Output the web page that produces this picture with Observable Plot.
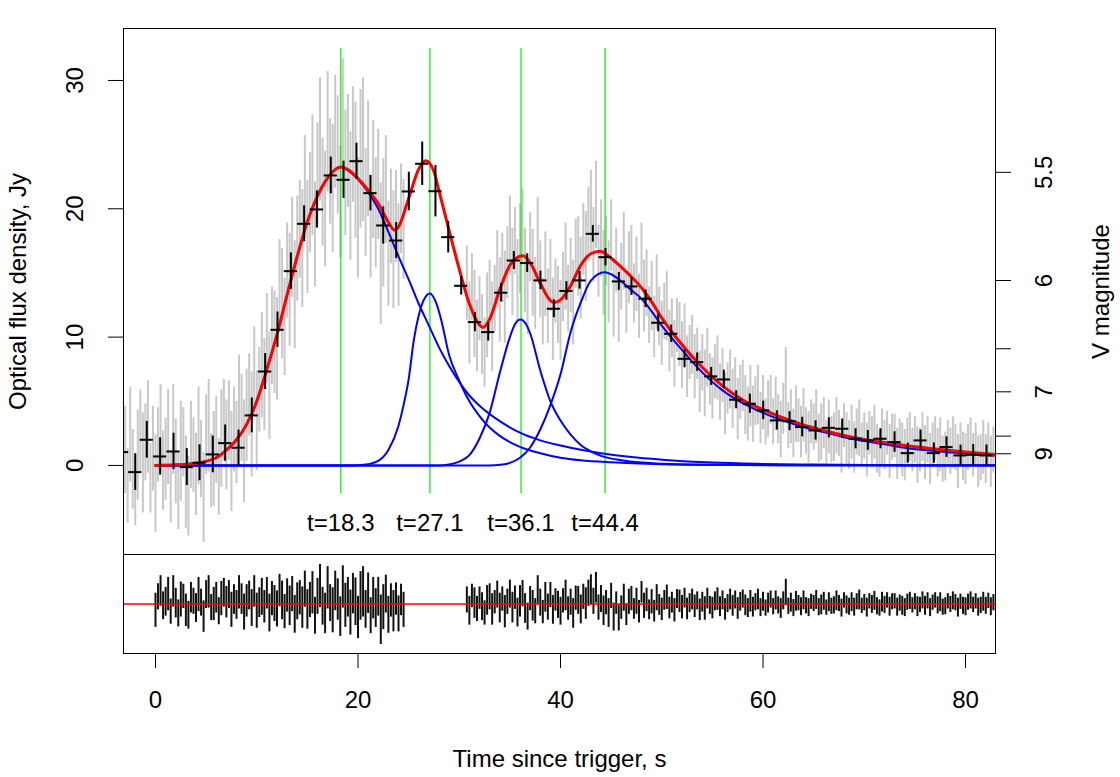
<!DOCTYPE html>
<html><head><meta charset="utf-8">
<script src="https://cdn.jsdelivr.net/npm/d3@7"></script>
<script src="https://cdn.jsdelivr.net/npm/@observablehq/plot@0.6"></script>
<style>
body{margin:0;background:#fff;}
#wrap{position:relative;width:1120px;height:777px;background:#fff;font-family:"Liberation Sans",Arial,Helvetica,sans-serif;}
#wrap svg{position:absolute;left:0;top:0;}
</style></head><body><div id="wrap"></div>
<script>
// ---------------- DATA ----------------
// Pulse peak times (s) and the range of the marker lines (Jy)
const peakTimes = [18.3, 27.1, 36.1, 44.4];
const markerRange = [-2.2, 32.5];

// Right axis: V magnitudes (zero point of V band in Jy)
const magTicks = [5.5, 6, 6.5, 7, 8, 9];
const magLabels = ["5.5", "6", "", "7", "", "9"];
const vZeroPointJy = 3620;

// Grey raw light curve (cadence 0.25 s), two segments
const cadence = 0.25;
const greyAStart = -3.0;
const greyA = [1.2,-1.6,2.4,-0.3,-1.9,0.8,2.7,0.2,1.8,3.0,-1.0,1.3,
 -1.4,1.6,2.9,-0.4,0.5,2.2,-1.7,2.8,0.3,-2.0,1.1,1.8,-1.3,-2.4,1.6,0.8,-0.7,2.3,0.5,-2.5,2.4,3.1,-0.4,0.5,2.0,-0.9,2.1,3.5,
 1.6,3.5,0.3,2.8,1.8,4.9,3.7,1.1,3.9,5.5,3.2,7.3,3.5,5.9,7.8,6.3,9.9,6.2,10.1,9.6,9.1,14.0,12.6,10.8,15.2,13.7,17.0,13.3,16.9,18.4,16.9,21.7,
 17.8,20.5,22.6,18.0,22.7,25.4,21.3,20.0,26.0,22.9,21.6,26.0,24.2,20.5,27.0,22.8,24.5,21.0,25.0,23.0,19.3,23.9,24.6,20.5,
 23.9,18.6,22.3,19.7,21.9,16.5,18.9,21.5,16.5,19.4,16.8,19.4,16.4,20.0,18.4];
const greyAErr = [3.4,2.9,3.7,3.1,2.8,3.5,3.2,3.9,3.0,3.6,2.7,3.3,
 3.8,2.9,3.4,3.1,3.2,3.7,2.8,3.5,3.3,3.0,3.9,2.7,3.6,3.1,3.4,2.9,3.2,3.8,3.0,3.5,3.1,3.6,2.9,3.7,3.4,3.0,3.8,3.2,
 3.5,3.1,3.9,3.3,3.2,3.7,3.4,4.0,3.6,3.2,4.1,3.5,3.9,3.3,4.1,3.6,3.5,4.2,3.8,4.0,4.0,3.6,4.3,3.8,3.7,4.4,3.9,4.2,4.1,3.8,4.6,4.0,
 4.4,3.9,4.7,4.1,4.0,4.8,4.2,4.5,4.7,4.1,5.0,4.4,4.6,4.4,4.7,4.9,4.4,5.0,4.5,5.3,4.7,5.4,5.6,4.2,
 4.5,4.0,4.6,4.3,4.3,5.5,5.0,4.2,4.1,3.7,4.6,3.6,4.0,3.5,3.9];
const greyBStart = 30.75;
const greyB = [14.2,
 11.1,13.9,11.8,10.1, 12.2,10.2,8.8,11.7, 13.1,10.8,13.0,15.3, 12.9,15.4,13.1,15.8, 17.9,15.1,17.5,14.4,
 16.9,18.7,15.2,13.2, 17.0,15.0,13.4,17.7, 14.5,12.0,14.9,12.4, 14.8,11.4,13.6,12.5, 11.3,13.9,15.5,13.0,
 14.8,12.7,16.5,16.3, 14.6,17.6,16.3,18.8, 19.7,17.2,20.3,15.9, 17.7,15.0,16.7,14.3, 17.9,13.1,16.0,12.5,
 14.7,16.7,12.7,15.4, 16.0,13.4,14.9,12.4, 16.5,13.2,14.2,11.7, 13.2,10.8,13.5,11.6, 10.3,12.0,12.4,9.7,
 10.7,8.7,10.9,10.2, 8.6,10.4,7.7,8.8, 9.4,7.7,8.7,6.5, 8.0,6.4,8.4,6.7, 6.0,7.3,7.6,5.7,
 7.0,4.8,6.0,6.7, 5.2,6.4,4.4,5.7, 6.2,4.7,4.0,5.4, 4.0,5.0,5.5,3.7, 4.9,3.4,4.4,5.1,
 3.4,4.8,3.6,2.8, 4.4,6.3,3.1,3.8, 2.5,4.0,3.5,2.6, 3.9,2.7,2.2,3.4, 3.0,3.8,2.1,2.6,
 3.3,1.8,3.0,2.0, 2.2,3.1,2.5,1.4, 3.1,2.1,1.6,2.6, 1.4,2.6,2.9,1.6, 2.3,1.2,2.5,1.8,
 2.6,1.3,0.9,2.2, 1.6,2.5,1.1,2.2, 2.3,0.9,1.8,1.2, 0.8,1.9,2.2,1.2, 2.0,0.8,1.2,2.2,
 1.0,2.0,0.5,1.6, 2.1,1.0,1.6,0.5, 0.7,1.8,1.1,1.8, 1.4,0.3,1.6,0.7, 0.5,1.4,1.8,0.8,
 1.6,0.3,0.6,1.4, 0.5,1.6,0.3,1.2, 1.0];
const greyBErr = [2.9,
 3.2,2.6,3.4,2.8, 2.5,3.1,2.7,3.3, 2.9,3.5,2.6,3.0, 3.3,2.7,3.6,2.8, 3.1,3.4,2.6,3.2,
 3.5,2.9,3.3,3.0, 2.7,3.4,2.8,3.2, 3.0,2.6,3.3,2.9, 2.8,3.2,2.5,3.0, 3.1,2.7,3.4,2.6,
 2.9,3.3,2.7,3.1, 3.2,2.8,3.5,2.9, 3.3,2.9,3.4,2.8, 3.0,3.3,2.7,3.2,
 2.8,3.1,2.5,2.9, 2.6,3.0,2.4,2.8, 2.7,2.3,2.9,2.5, 2.4,2.8,2.6,2.2, 2.7,2.4,2.9,2.3,
 2.5,2.2,2.7,2.4, 2.3,2.6,2.1,2.5, 2.6,2.2,2.4,2.1, 2.3,2.5,2.0,2.4, 2.2,2.6,2.3,2.0,
 2.4,2.1,2.5,2.2, 2.1,2.4,2.0,2.3, 2.3,2.0,2.4,2.1, 2.0,2.3,2.1,2.4, 2.2,1.9,2.3,2.0,
 2.1,1.8,2.2,1.9, 1.8,2.1,1.9,2.2, 2.0,2.9,1.8,2.1, 1.9,2.2,1.7,2.0, 2.1,1.8,2.0,1.7,
 1.8,2.1,1.9,2.2, 2.0,1.7,2.1,1.8, 1.9,2.2,1.8,2.0, 1.7,2.0,1.9,2.1, 2.0,1.8,2.2,1.7,
 1.8,2.1,1.7,2.0, 2.1,1.9,1.8,2.2, 1.9,1.7,2.1,1.8, 1.7,2.0,1.8,2.1, 2.0,1.8,1.9,1.7,
 1.8,2.2,1.7,1.9, 2.1,1.8,2.0,1.7, 1.7,1.9,2.1,1.8, 1.9,1.7,1.8,2.0, 1.8,2.1,1.7,1.9,
 2.0,1.8,1.9,1.7, 1.7,2.0,1.8,2.1, 1.9,1.7,2.0,1.8, 1.8];

// Residuals (data - model, Jy), same cadence; first segment starts at t = 0
const residAStart = 0.0;
const resA = [-1.4,1.6,2.9,-0.4,0.5,2.2,-1.7,2.8,0.2,-2.1,1.0,1.7,-1.4,-2.5,1.4,0.6,-0.9,2.1,0.3,-2.8,2.1,2.7,-0.8,0.0,1.4,-1.6,1.2,2.5,
 0.4,2.1,-1.3,1.0,-0.2,2.6,1.1,-1.8,0.7,1.9,-0.9,2.8,-1.5,0.3,1.6,-0.6,2.4,-2.0,1.2,0.1,-1.1,3.0,0.8,-1.7,1.9,-0.4,2.2,-2.3,0.6,1.4,
 -0.8,3.3,-1.2,0.9,2.5,-2.6,1.7,4.0,-0.5,-2.1,3.6,0.2,-1.4,2.9,1.0,-2.8,3.8,-0.3,1.5,-1.9,2.3,0.5,-3.0,1.8,2.7,-1.2,
 2.4,-2.6,1.3,-0.9,1.6,-3.5,-0.7,2.2,-2.4,0.8,-1.6,1.1,-2.2,0.9,-1.3];
const resB = [0.9,
 -1.5,1.8,0.2,-1.1, 1.3,-0.6,-2.0,0.8, 1.6,-1.2,0.4,2.1, -0.9,1.1,-1.7,0.5, 2.2,-0.8,1.4,-1.9,
 0.6,2.3,-1.0,-2.8, 1.2,-0.4,-1.6,3.1, 0.3,-1.8,1.5,-0.7, 2.0,-1.3,0.9,-0.2, -1.6,0.7,1.9,-1.0,
 0.4,-2.1,1.3,0.8, -1.2,1.6,0.1,2.4, 3.2,0.6,3.6,-0.8, 1.1,-1.5,0.3,-2.0, 1.8,-2.9,0.2,-3.1,
 -0.8,1.4,-2.4,0.5, 1.2,-1.1,0.6,-1.7, 2.6,-0.4,0.9,-1.3, 0.5,-1.6,1.4,-0.2, -1.2,0.8,1.5,-0.9,
 0.3,-1.4,1.1,0.6, -0.7,1.3,-1.1,0.2, 1.0,-0.5,0.7,-1.3, 0.4,-1.0,1.2,-0.3, -0.9,0.6,1.1,-0.6,
 0.8,-1.2,0.1,1.0, -0.4,0.9,-1.0,0.5, 1.1,-0.3,-0.9,0.6, -0.7,0.4,1.0,-0.8, 0.5,-0.9,0.2,1.0,
 -0.6,0.8,-0.3,-1.0, 0.7,2.6,-0.5,0.3, -0.9,0.6,0.2,-0.6, 0.8,-0.4,-0.8,0.5, 0.1,0.9,-0.7,-0.2,
 0.6,-0.8,0.4,-0.5, -0.3,0.7,0.1,-0.9, 0.8,-0.2,-0.6,0.4, -0.7,0.5,0.9,-0.4, 0.3,-0.8,0.6,-0.1,
 0.7,-0.5,-0.9,0.4, -0.2,0.8,-0.6,0.5, 0.6,-0.7,0.2,-0.4, -0.8,0.4,0.7,-0.3, 0.5,-0.6,-0.2,0.8,
 -0.4,0.7,-0.8,0.3, 0.8,-0.3,0.4,-0.7, -0.5,0.6,-0.1,0.7, 0.3,-0.8,0.5,-0.4, -0.6,0.4,0.8,-0.2,
 0.6,-0.7,-0.3,0.5, -0.4,0.7,-0.6,0.3, 0.2];

// Binned points (black crosses)
const binHalfWidth = 0.65;
const binT = [-3.3,-2.0,-0.86,0.46,1.78,3.09,4.35,5.66,6.88,8.2,9.51,10.83,12.05,13.37,14.68,15.94,17.31,18.57,19.85,21.23,22.49,
 23.77,25.02,26.34,27.65,28.91,30.19,31.54,32.86,34.14,35.39,36.71,38.02,39.34,40.58,41.88,43.19,44.44,45.76,47.01,48.4,
 49.65,50.93,52.25,53.5,54.88,56.13,57.35,58.7,60.02,61.37,62.62,63.87,65.19,66.5,67.82,69.14,70.35,71.6,72.99,74.3,
 75.56,76.87,78.12,79.51,80.76,82.07];
const binF = [1.04,-0.52,2.0,0.70,1.09,-0.13,0.21,0.86,1.74,1.38,3.9,7.32,10.57,15.14,18.83,19.95,22.6,22.26,23.71,21.22,18.70,
 17.53,21.35,23.51,21.37,17.79,14.0,11.17,10.39,13.46,15.97,15.77,14.42,12.21,13.6,14.42,18.05,16.23,14.34,13.95,12.99,
 11.12,10.26,8.31,8.05,6.94,6.70,5.12,4.81,4.29,3.51,3.45,2.99,2.73,2.93,2.86,2.08,1.95,2.08,1.82,0.96,
 1.95,0.96,1.43,0.78,0.83,0.78];
const binErr = [1.43,1.43,1.43,1.45,1.42,1.44,1.40,1.43,1.41,1.38,1.36,1.40,1.38,1.42,1.40,1.45,1.43,1.45,1.40,1.38,1.45,
 1.40,1.50,1.69,2.0,1.23,0.72,0.75,0.70,0.72,0.70,0.73,0.72,0.70,0.72,0.68,0.65,0.68,0.70,0.70,0.68,
 0.70,0.68,0.70,0.72,0.70,0.72,0.70,0.75,0.72,0.75,0.74,0.76,0.75,0.78,0.76,0.78,0.77,0.78,0.80,0.78,
 0.80,0.79,0.80,0.80,0.80,0.82];

// Pulse components (blue)
const comp1T = [0,2,4,5,6,7,8,9,10,11,12,13,14,15,16,17,18.3,19,20,21,22,23,24,25,26,27,28,29,30,31,32,34,36,38,40,42,44,47,50,55,60,65,70,75,83];
const comp1F = [0,0.05,0.18,0.32,0.6,1.2,2.0,3.2,5.0,7.5,10.2,13.3,16.3,19.0,21.0,22.4,23.25,23.0,22.3,21.3,20.0,18.2,16.3,14.5,12.6,10.9,9.2,7.75,6.5,5.45,4.65,3.45,2.55,1.95,1.55,1.22,0.95,0.65,0.45,0.22,0.12,0.07,0.04,0.02,0.01];
const comp2T = [0,19,20,21,22,23,24,24.5,25,25.5,26,26.5,27.1,27.7,28.2,29,30,31,32,33,34,36,38,40,42,45,50,55,60,70,83];
const comp2F = [0,0,0.02,0.1,0.35,1.2,3.1,4.7,6.7,9.7,11.7,12.9,13.4,12.7,11.4,8.6,6.6,5.0,3.85,2.95,2.3,1.45,0.95,0.6,0.4,0.24,0.1,0.05,0.03,0.01,0];
const comp3T = [0,28,29,30,31,32,33,34,35,35.5,36.05,36.6,37,38,39,40,41,42,43,44,46,48,50,55,60,83];
const comp3F = [0,0,0.08,0.3,0.8,2.1,4.1,7.2,10.0,11.0,11.38,11.0,10.3,7.4,5.0,3.5,2.4,1.6,1.1,0.75,0.4,0.22,0.13,0.05,0.02,0];
const comp4T = [0,33,34,35,36,37,38,39,40,41,42,43,44.35,45,46,47,48,49,50,52,54,56,58,60,62,64,66,68,70,72,74,76,78,80,83];
const comp4F = [0,0,0.05,0.2,0.6,1.4,2.8,4.7,7.1,10.4,12.7,14.4,15.05,14.9,14.35,13.65,13.0,12.0,10.9,9.0,7.25,5.85,4.85,4.1,3.5,3.0,2.6,2.2,1.9,1.65,1.38,1.2,1.05,0.93,0.76];
// Total model (red)
const redT = [0,2,4,5,6,7,8,9,10,11,12,13,14,15,16,17,18.3,19,20,21,22,23,23.6,24,25,26,26.7,27.5,28,29,30,31,32,32.35,33,34,35,36,36.3,37,38,39,39.4,40,41,42,43,43.9,45,46,47,48,49,50,52,54,56,58,60,62,64,66,68,70,72,74,76,78,80,83];
const redF = [0,0.05,0.18,0.32,0.6,1.2,2.0,3.2,5.0,7.5,10.2,13.3,16.3,19.0,21.0,22.4,23.25,23.05,22.35,21.45,20.4,18.95,18.35,18.6,20.8,23.1,23.75,22.9,21.4,18.3,15.3,12.6,10.95,10.75,11.4,13.7,15.6,16.3,16.35,15.8,14.2,12.85,12.7,12.9,14.0,15.6,16.5,16.7,16.15,15.45,14.7,13.85,12.75,11.5,9.4,7.65,6.2,5.1,4.35,3.7,3.15,2.72,2.33,2.02,1.78,1.55,1.37,1.2,1.05,0.84];

// ---------------- BUILD ----------------
const xDomain = [-3.16, 82.96];
const fontStack = '"Liberation Sans", Arial, Helvetica, sans-serif';
const series = (ts, fs, name) => ts.map((t, i) => ({t, f: fs[i], comp: name}));
const blueData = [...series(comp1T, comp1F, "c1"), ...series(comp2T, comp2F, "c2"), ...series(comp3T, comp3F, "c3"), ...series(comp4T, comp4F, "c4")];
const redData = series(redT, redF, "total");
const greyData = [
  ...greyA.map((f, i) => ({t: greyAStart + i * cadence, lo: f - greyAErr[i], hi: f + greyAErr[i]})),
  ...greyB.map((f, i) => ({t: greyBStart + i * cadence, lo: f - greyBErr[i], hi: f + greyBErr[i]}))
];
const offA = Math.round((residAStart - greyAStart) / cadence);
const residData = [
  ...resA.map((r, i) => ({t: residAStart + i * cadence, lo: r - greyAErr[i + offA], hi: r + greyAErr[i + offA]})),
  ...resB.map((r, i) => ({t: greyBStart + i * cadence, lo: r - greyBErr[i], hi: r + greyBErr[i]}))
];
const binData = binT.map((t, i) => ({t, f: binF[i], lo: binF[i] - binErr[i], hi: binF[i] + binErr[i], tl: t - binHalfWidth, tr: t + binHalfWidth}));
const magFlux = magTicks.map(m => vZeroPointJy * Math.pow(10, -0.4 * m));
const magLabelOf = new Map(magFlux.map((f, i) => [f, magLabels[i]]));

const common = {width: 1120, height: 777, marginLeft: 123, marginRight: 125};

const bottomPlot = Plot.plot({
  ...common, marginTop: 554, marginBottom: 124,
  style: {fontFamily: fontStack, fontSize: "24px", background: "white", overflow: "visible"},
  x: {domain: xDomain, axis: null},
  y: {domain: [-11, 11], axis: null},
  marks: [
    Plot.ruleX(residData, {x: "t", y1: "lo", y2: "hi", stroke: "#111", strokeWidth: 2, clip: true}),
    Plot.ruleY([0], {stroke: "#ff0000", strokeWidth: 1.3}),
    Plot.axisX({anchor: "bottom", ticks: [0, 20, 40, 60, 80], tickSize: 15, tickPadding: 22.5, label: null}),
    Plot.frame({stroke: "black"}),
    Plot.text(["Time since trigger, s"], {frameAnchor: "bottom", dy: 113, lineAnchor: "bottom", fill: "black"})
  ]
});

const topPlot = Plot.plot({
  ...common, marginTop: 28, marginBottom: 223,
  style: {fontFamily: fontStack, fontSize: "24px", background: "transparent", overflow: "visible"},
  x: {domain: xDomain, axis: null},
  y: {domain: [-6.94, 34.05], axis: null},
  marks: [
    Plot.ruleX(greyData, {x: "t", y1: "lo", y2: "hi", stroke: "#c8c8c8", strokeWidth: 2, clip: true}),
    Plot.ruleX(peakTimes, {x: d => d, y1: markerRange[0], y2: markerRange[1], stroke: "#00ee00", strokeWidth: 1.2}),
    Plot.line(blueData, {x: "t", y: "f", z: "comp", stroke: "#0000ff", strokeWidth: 2, curve: "monotone-x", clip: true}),
    Plot.line(redData, {x: "t", y: "f", stroke: "#ff0000", strokeWidth: 3, curve: "monotone-x", clip: true}),
    Plot.ruleX(binData, {x: "t", y1: "lo", y2: "hi", stroke: "black", strokeWidth: 2, clip: true}),
    Plot.ruleY(binData, {y: "f", x1: "tl", x2: "tr", stroke: "black", strokeWidth: 2, clip: true}),
    Plot.text(peakTimes, {x: d => d, text: d => "t=" + d, frameAnchor: "bottom", lineAnchor: "bottom", dy: -24, fill: "black"}),
    Plot.axisY({anchor: "left", ticks: [0, 10, 20, 30], tickSize: 15, tickRotate: -90, tickPadding: 25.5, label: null}),
    Plot.axisY({anchor: "right", ticks: magFlux, tickFormat: d => magLabelOf.get(d), tickSize: 15, tickRotate: -90, tickPadding: 41.5, label: null}),
    Plot.frame({stroke: "black"}),
    Plot.text(["Optical flux density, Jy"], {frameAnchor: "left", rotate: -90, dx: -98, lineAnchor: "bottom", textAnchor: "middle", fill: "black"}),
    Plot.text(["V magnitude"], {frameAnchor: "right", rotate: -90, dx: 113, lineAnchor: "bottom", textAnchor: "middle", fill: "black"})
  ]
});

const wrap = document.getElementById("wrap");
wrap.appendChild(bottomPlot);
wrap.appendChild(topPlot);
</script></body></html>
